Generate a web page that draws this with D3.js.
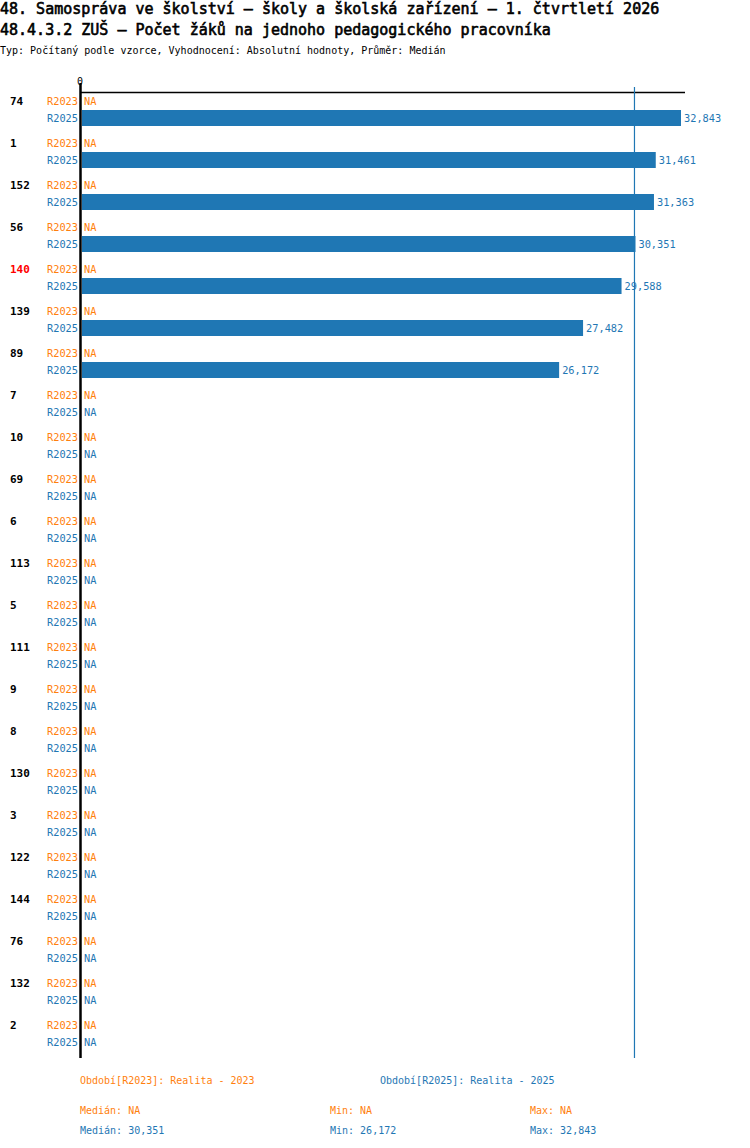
<!DOCTYPE html>
<html>
<head>
<meta charset="utf-8">
<script src="https://cdn.jsdelivr.net/npm/d3@7"></script>
<style>
	body { margin: 0; background: #fff; }
	text { font-family: "DejaVu Sans Mono", monospace; }
</style>
</head>
<body>
<svg id="chart" width="750" height="1148"></svg>
<script>
// data
const units = ["74", "1", "152", "56", "140", "139", "89", "7", "10", "69", "6", "113", "5", "111", "9", "8", "130", "3", "122", "144", "76", "132", "2"];
const highlighted = "140";
const periods = ["R2023", "R2025"];
const values2023 = units.map(() => null);
const values2025 = [32843, 31461, 31363, 30351, 29588, 27482, 26172, null, null, null, null, null, null, null, null, null, null, null, null, null, null, null, null];
const median2025 = 30351;
const min2025 = 26172;
const max2025 = 32843;

const ORANGE = "#ff7f0e";
const BLUE = "#1f77b4";
const fmt = d3.format(",");

const svg = d3.select("#chart");

// titles
svg.append("text").attr("x", 0).attr("y", 14).attr("font-size", 15)
	.attr("stroke", "#000").attr("stroke-width", 0.6)
	.text("48. Samospráva ve školství – školy a školská zařízení – 1. čtvrtletí 2026");
svg.append("text").attr("x", 0).attr("y", 35).attr("font-size", 15)
	.attr("stroke", "#000").attr("stroke-width", 0.6)
	.text("48.4.3.2 ZUŠ – Počet žáků na jednoho pedagogického pracovníka");
svg.append("text").attr("x", 0).attr("y", 54).attr("font-size", 10)
	.text("Typ: Počítaný podle vzorce, Vyhodnocení: Absolutní hodnoty, Průměr: Medián");

const x = d3.scaleLinear().domain([0, max2025]).range([81, 681]);
const groupY = d3.scaleBand().domain(units).range([80, 80 + 42 * units.length]);

// top axis line + zero tick
svg.append("line").attr("x1", 80).attr("x2", 685).attr("y1", 92.5).attr("y2", 92.5)
	.attr("stroke", "#000").attr("stroke-width", 1.5);
svg.append("text").attr("x", x(0) - 1).attr("y", 85).attr("font-size", 10)
	.attr("text-anchor", "middle").text("0");

// median line
svg.append("line").attr("x1", x(median2025) - 1).attr("x2", x(median2025) - 1)
	.attr("y1", 87).attr("y2", 1058).attr("stroke", BLUE).attr("stroke-width", 1.2);

const rows = svg.append("g").selectAll("g").data(units).join("g")
	.attr("transform", d => `translate(0,${groupY(d)})`);

rows.append("text").attr("x", 10).attr("y", 25).attr("font-size", 11).attr("font-weight", "bold")
	.attr("fill", d => d === highlighted ? "#ff0000" : "#000").text(d => d);

periods.forEach((p, pi) => {
	const vals = pi === 0 ? values2023 : values2025;
	const color = pi === 0 ? ORANGE : BLUE;
	const cy = 21 + pi * 17;
	rows.append("text").attr("x", 78).attr("y", cy + 4).attr("font-size", 10.3)
		.attr("text-anchor", "end").attr("fill", color).text(p);
	rows.each(function(d, i) {
		const g = d3.select(this);
		const v = vals[i];
		if (v == null) {
			g.append("text").attr("x", 84).attr("y", cy + 4).attr("font-size", 10.3)
				.attr("fill", color).text("NA");
		} else {
			g.append("rect").attr("x", 82).attr("y", cy - 8).attr("width", x(v) - 82)
				.attr("height", 16).attr("fill", color);
			g.append("text").attr("x", x(v) + 3).attr("y", cy + 4).attr("font-size", 10.3)
				.attr("fill", color).text(fmt(v));
		}
	});
});

// zero axis
svg.append("line").attr("x1", 80.5).attr("x2", 80.5).attr("y1", 83).attr("y2", 1058)
	.attr("stroke", "#000").attr("stroke-width", 2.5);

// footer
const foot = svg.append("g").attr("font-size", 10);
foot.append("text").attr("x", 80).attr("y", 1084).attr("fill", ORANGE).text("Období[R2023]: Realita - 2023");
foot.append("text").attr("x", 380).attr("y", 1084).attr("fill", BLUE).text("Období[R2025]: Realita - 2025");
const stats = [
	{ color: ORANGE, y: 1114, med: null, min: null, max: null },
	{ color: BLUE, y: 1134, med: median2025, min: min2025, max: max2025 }
];
const show = v => v == null ? "NA" : fmt(v);
stats.forEach(s => {
	foot.append("text").attr("x", 80).attr("y", s.y).attr("fill", s.color).text("Medián: " + show(s.med));
	foot.append("text").attr("x", 330).attr("y", s.y).attr("fill", s.color).text("Min: " + show(s.min));
	foot.append("text").attr("x", 530).attr("y", s.y).attr("fill", s.color).text("Max: " + show(s.max));
});
</script>
</body>
</html>
